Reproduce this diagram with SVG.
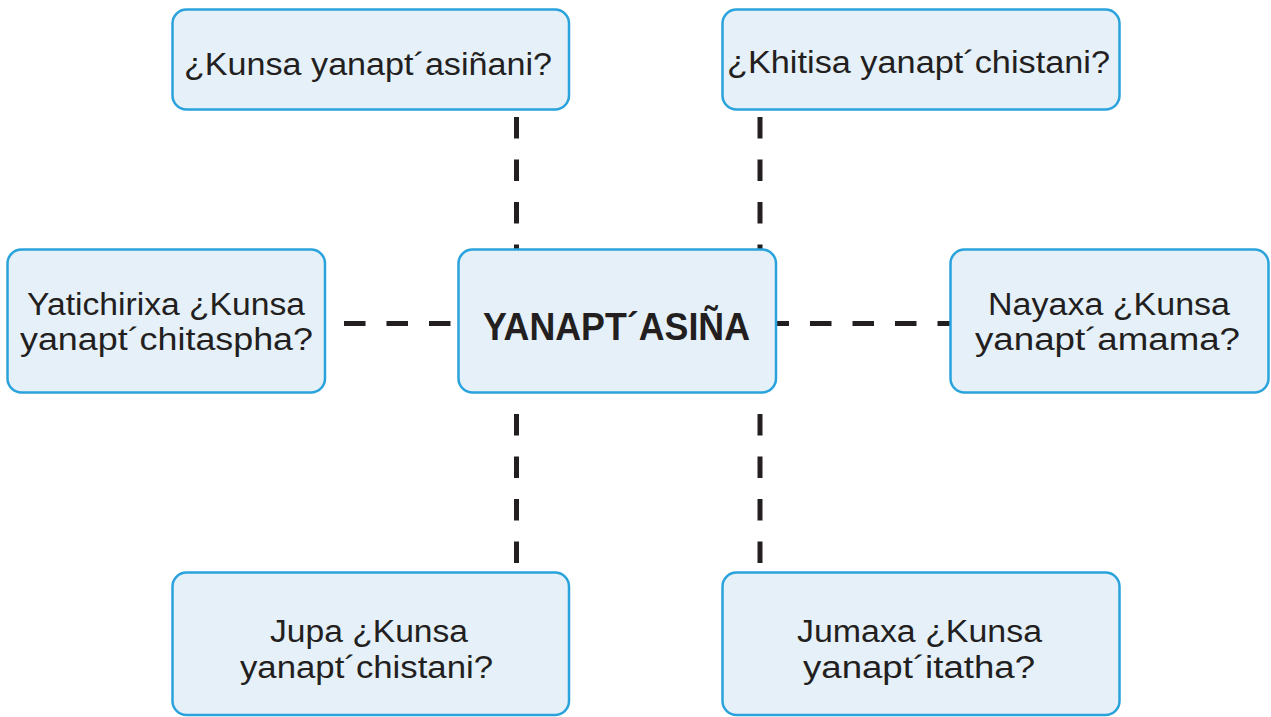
<svg xmlns="http://www.w3.org/2000/svg" width="1271" height="717" viewBox="0 0 1271 717">
<style>
.box{fill:#e5f0f9;stroke:#2aa3dc;stroke-width:2.5}
.t{font-family:"Liberation Sans","DejaVu Sans",sans-serif;font-size:31px;fill:#231f20;text-anchor:middle}
.b{font-family:"Liberation Sans","DejaVu Sans",sans-serif;font-size:38px;font-weight:bold;fill:#231f20;text-anchor:middle}
.c{stroke:#231f20;stroke-width:5;fill:none;stroke-dasharray:21.5 21}
</style>
<rect width="1271" height="717" fill="#ffffff"/>
<g id="connectors">
<line class="c" x1="516.5" y1="117" x2="516.5" y2="249"/>
<line class="c" x1="760" y1="117" x2="760" y2="249"/>
<line class="c" x1="516.5" y1="414" x2="516.5" y2="572"/>
<line class="c" x1="760" y1="414" x2="760" y2="572"/>
<line class="c" x1="344" y1="323.5" x2="458" y2="323.5"/>
<line class="c" x1="767.5" y1="323.5" x2="950" y2="323.5"/>
</g>
<g id="node-top-left">
<rect class="box" x="172.5" y="9.5" width="396.5" height="100" rx="14"/>
<text class="t" x="368" y="75" textLength="368" lengthAdjust="spacingAndGlyphs">¿Kunsa yanapt´asiñani?</text>
</g>
<g id="node-top-right">
<rect class="box" x="722.5" y="9.5" width="397" height="100" rx="14"/>
<text class="t" x="918.5" y="73" textLength="383" lengthAdjust="spacingAndGlyphs">¿Khitisa yanapt´chistani?</text>
</g>
<g id="node-left">
<rect class="box" x="7.5" y="249.5" width="317.5" height="143" rx="14"/>
<text class="t" x="166" y="315" textLength="278" lengthAdjust="spacingAndGlyphs">Yatichirixa ¿Kunsa</text>
<text class="t" x="166.5" y="350" textLength="293" lengthAdjust="spacingAndGlyphs">yanapt´chitaspha?</text>
</g>
<g id="node-center">
<rect class="box" x="458.5" y="249.5" width="317.5" height="143" rx="14"/>
<text class="b" x="616.5" y="340" textLength="267" lengthAdjust="spacingAndGlyphs">YANAPT´ASIÑA</text>
</g>
<g id="node-right">
<rect class="box" x="950.5" y="249.5" width="318" height="143" rx="14"/>
<text class="t" x="1109" y="315" textLength="242" lengthAdjust="spacingAndGlyphs">Nayaxa ¿Kunsa</text>
<text class="t" x="1107.5" y="350" textLength="265" lengthAdjust="spacingAndGlyphs">yanapt´amama?</text>
</g>
<g id="node-bottom-left">
<rect class="box" x="172.5" y="572.5" width="396.5" height="142.5" rx="14"/>
<text class="t" x="369" y="642" textLength="198" lengthAdjust="spacingAndGlyphs">Jupa ¿Kunsa</text>
<text class="t" x="366.5" y="678" textLength="253" lengthAdjust="spacingAndGlyphs">yanapt´chistani?</text>
</g>
<g id="node-bottom-right">
<rect class="box" x="722.5" y="572.5" width="397" height="142.5" rx="14"/>
<text class="t" x="919.5" y="642" textLength="245" lengthAdjust="spacingAndGlyphs">Jumaxa ¿Kunsa</text>
<text class="t" x="919" y="678" textLength="232" lengthAdjust="spacingAndGlyphs">yanapt´itatha?</text>
</g>
</svg>
